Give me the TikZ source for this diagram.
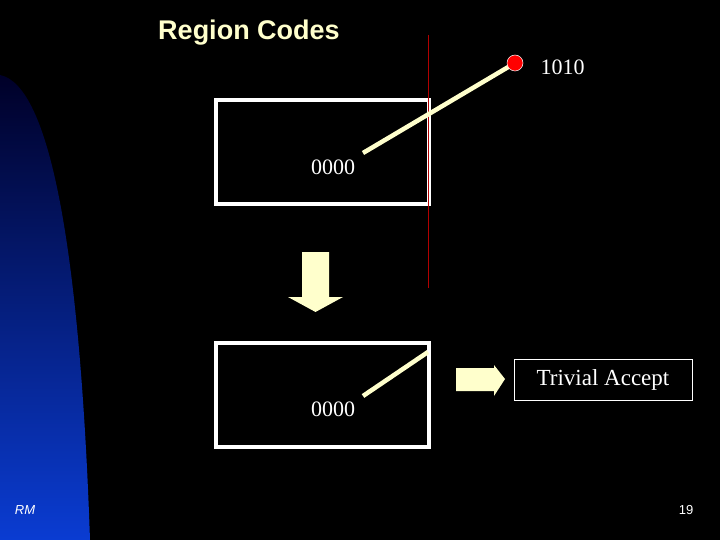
\documentclass[tikz,border=0pt]{standalone}
\usepackage{fontspec}
\setmainfont{Liberation Serif}
\setsansfont{Liberation Sans}
\begin{document}
\begin{tikzpicture}[x=1pt,y=-1pt]
\definecolor{cream}{RGB}{255,255,204}
\tikzset{box/.style={draw=white,line width=4pt},
lbl/.style={text=white,font=\fontsize{22}{24}\selectfont},
seg/.style={draw=cream,line width=4.5pt},
fatarrow/.style={fill=cream}}
\fill[black] (0,0) rectangle (720,540);
\useasboundingbox (0,0) rectangle (720,540);
\shade[top color={rgb,255:red,0;green,0;blue,40}, bottom color={rgb,255:red,10;green,60;blue,210}]
 (0,75) .. controls (50,85) and (80,250) .. (90,540) -- (0,540) -- cycle;
\node[text=cream,font=\sffamily\bfseries\fontsize{27}{30}\selectfont] (title) at (249,33) {Region Codes};
\draw[box] (216,100) rectangle (429,204);
\draw[box] (216,343) rectangle (429,447);
\coordinate (rt) at (428,35); \coordinate (rb) at (428,288);
\draw[red!70!black,line width=1pt] (rt) -- (rb);
\coordinate (p1) at (363,153); \coordinate (p2) at (515,63);
\draw[seg] (p1) -- (p2);
\node[circle,fill=red,draw=white,line width=0.5pt,minimum size=16pt,inner sep=0] (dot) at (p2) {};
\node[lbl,anchor=west] (c1) at (537,67) {1010};
\node[lbl] (c0) at (333,167) {0000};
\coordinate (q1) at (363,396); \coordinate (q2) at (428,352);
\draw[seg] (q1) -- (q2);
\node[lbl] (c2) at (333,409) {0000};
\fill[fatarrow] (302,252) -- (329,252) -- (329,297) -- (343,297) -- (315.5,312) -- (288,297) -- (302,297) -- cycle;
\fill[fatarrow] (456,368) -- (494,368) -- (494,365) -- (505,379) -- (494,396) -- (494,391) -- (456,391) -- cycle;
\node[draw=white,line width=0.8pt,text=white,font=\fontsize{23}{25}\selectfont,minimum width=178pt,minimum height=41pt,inner sep=0] (ta) at (603,380) {Trivial Accept};
\node[text=white,font=\sffamily\itshape\fontsize{13}{14}\selectfont] (rm) at (25,510) {RM};
\node[text=white,font=\sffamily\fontsize{13}{14}\selectfont] (pg) at (686,510) {19};
\end{tikzpicture}
\end{document}
